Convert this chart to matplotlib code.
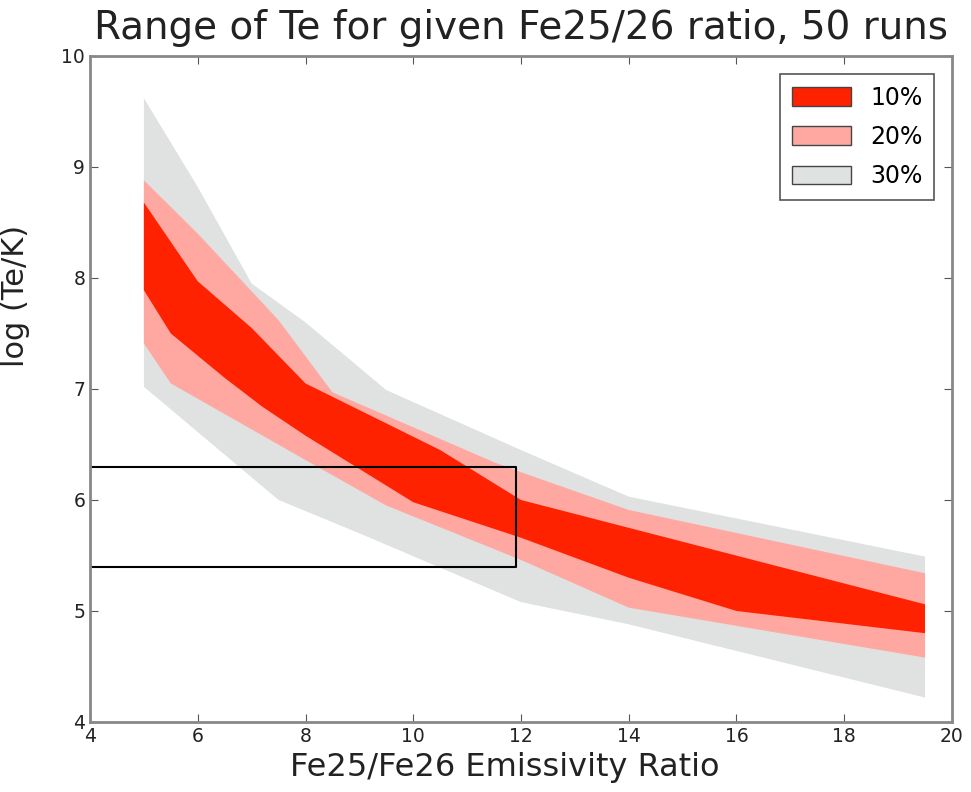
import matplotlib
matplotlib.use('Agg')
import matplotlib.pyplot as plt
from matplotlib.patches import Patch

# band edges (x = Fe25/Fe26 ratio, y = log Te)
gray_up_x = [5, 6, 7, 8, 9.5, 12, 14, 19.5]
gray_up_y = [9.62, 8.82, 7.95, 7.6, 6.99, 6.45, 6.03, 5.49]
gray_lo_x = [5, 7.5, 9, 12, 14, 19.5]
gray_lo_y = [7.02, 6.0, 5.7, 5.08, 4.88, 4.22]

pink_up_x = [5, 6, 7.5, 8.5, 11.5, 12, 14, 19.5]
pink_up_y = [8.88, 8.40, 7.62, 6.97, 6.34, 6.25, 5.91, 5.34]
pink_lo_x = [5, 5.5, 8, 9.5, 12, 14, 19.5]
pink_lo_y = [7.41, 7.05, 6.36, 5.95, 5.46, 5.03, 4.58]

red_up_x = [5, 6, 7, 8, 8.5, 10.5, 12, 19.5]
red_up_y = [8.68, 7.97, 7.55, 7.05, 6.93, 6.45, 6.0, 5.06]
red_lo_x = [5, 5.5, 6.5, 7.2, 8, 9, 10, 12, 14, 16, 19.5]
red_lo_y = [7.89, 7.5, 7.1, 6.84, 6.58, 6.28, 5.98, 5.66, 5.3, 5.0, 4.8]

labels = ['10%', '20%', '30%']
colors = ['#ff2200', '#ffa8a2', '#e0e1e1']

box_x = [4, 11.9]
box_y = [5.4, 6.3]

fig = plt.figure(figsize=(9.71, 7.92), dpi=100)
ax = fig.add_axes([0.0927, 0.0884, 0.8877, 0.8409])


def band(xu, yu, xl, yl, color):
    xs = list(xu) + list(reversed(xl))
    ys = list(yu) + list(reversed(yl))
    ax.fill(xs, ys, color=color, lw=0)


band(gray_up_x, gray_up_y, gray_lo_x, gray_lo_y, colors[2])
band(pink_up_x, pink_up_y, pink_lo_x, pink_lo_y, colors[1])
band(red_up_x, red_up_y, red_lo_x, red_lo_y, colors[0])

ax.plot([box_x[0], box_x[1], box_x[1], box_x[0]],
        [box_y[1], box_y[1], box_y[0], box_y[0]], color='black', lw=1.5)

ax.set_xlim(4, 20)
ax.set_ylim(4, 10)
ax.set_xticks(range(4, 21, 2))
ax.set_yticks(range(4, 11))
ax.tick_params(direction='in', top=True, right=True, length=6,
               labelsize=13.5, colors='#555555', labelcolor='#222222')
for s in ax.spines.values():
    s.set_color('#888888')
    s.set_linewidth(2)

ax.set_title('Range of Te for given Fe25/26 ratio, 50 runs',
             fontsize=28, color='#222222', pad=12)
ax.set_xlabel('Fe25/Fe26 Emissivity Ratio', fontsize=23, color='#222222')
ax.xaxis.set_label_coords(0.481, -0.045)
ax.set_ylabel('log (Te/K)', fontsize=22, color='#222222')
ax.yaxis.set_label_coords(-0.07, 0.64)

handles = [Patch(facecolor=c, edgecolor='#444444', lw=1) for c in colors]
leg = ax.legend(handles, labels, loc='upper right', fontsize=17,
                fancybox=False, framealpha=1, edgecolor='#555555',
                handlelength=2.5, handleheight=0.85, borderaxespad=0.75,
                labelspacing=0.65, borderpad=0.5)
leg.get_frame().set_linewidth(1.2)

fig.savefig('out.png', dpi=100)
